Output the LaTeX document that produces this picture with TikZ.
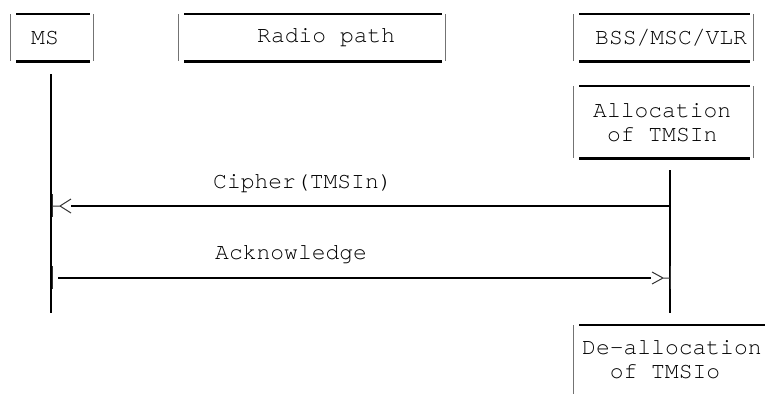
\documentclass[tikz,border=0pt]{standalone}
\usepackage{fontspec}
\usepackage{tikz}
\usetikzlibrary{positioning}
\newfontfamily\diagfont{texgyrecursor-regular.otf}
\newcommand{\ts}{\hspace*{0.6em}}
\tikzset{
  hdrbox/.style={inner xsep=0pt, inner ysep=0pt, align=left, anchor=north west, font=\fontsize{23}{24}\diagfont},
  lbl/.style={inner sep=0pt, anchor=base west, font=\fontsize{23}{24}\diagfont},
  topline/.style={line width=2.2pt, black},
  sideline/.style={line width=0.8pt, black!55},
  life/.style={line width=1.3pt, black},
  msg/.style={line width=2.2pt, black},
  thinl/.style={line width=1pt, black!80}
}

\begin{document}
\begin{tikzpicture}[x=1pt,y=-1pt]
\useasboundingbox (0,0) rectangle (765,394);
\node[hdrbox, text width=83pt, minimum height=47pt] (ms) at (10,14) {\hspace*{21pt}MS};
\node[hdrbox, text width=267pt, minimum height=47pt] (radio) at (178,14) {\hspace*{79pt}Radio\ts path};
\node[hdrbox, text width=180pt, minimum height=47pt] (bss) at (573,14) {\hspace*{22pt}BSS/MSC/VLR};
\node[hdrbox, text width=180pt, minimum height=72pt] (alloc) at (573,86) {\hspace*{20pt}Allocation\\\hspace*{20pt}\ts of\ts TMSIn};
\node[hdrbox, text width=192pt, minimum height=69pt] (dealloc) at (573,325) {\hspace*{9pt}De-allocation\\\hspace*{9pt}\ts\ts of\ts TMSIo};
\foreach \b in {ms,radio,bss,alloc} {
  \draw[sideline] (\b.north west) -- (\b.south west) (\b.north east) -- (\b.south east);
  \draw[topline] ([xshift=6pt]\b.north west) -- ([xshift=-3pt]\b.north east)
    ([xshift=6pt]\b.south west) -- ([xshift=-3pt]\b.south east);
}
\draw[sideline] (dealloc.north west) -- (dealloc.south west);
\draw[topline] ([xshift=6pt]dealloc.north west) -- (dealloc.north east);
% lifelines
\coordinate (msTop) at (51,74);
\coordinate (msBot) at (51,313);
\coordinate (bssTop) at (670,170);
\coordinate (bssBot) at (670,313);
\draw[life] (msTop) -- (msBot);
\draw[life] (bssTop) -- (bssBot);
% messages
\coordinate (cipR) at (670,206);
\coordinate (cipL) at (52,206);
\draw[msg, shorten >=19pt] (cipR) -- (cipL);
\draw[thinl] (cipL) -- ++(8,0) ++(11,-7) -- ++(-11,7) -- ++(11,7);
\draw[thinl] (cipL) ++(0,-12) -- ++(0,23);
\node[lbl] (cipLbl) at (213,188) {Cipher(TMSIn)};
\coordinate (ackL) at (52,278);
\coordinate (ackR) at (670,278);
\draw[msg, shorten <=6pt, shorten >=19pt] (ackL) -- (ackR);
\draw[thinl] (ackR) -- ++(-7,0) ++(-11,-6) -- ++(11,6) -- ++(-11,6);
\draw[thinl] (ackL) ++(0,-12) -- ++(0,23);
\draw[thinl] (ackR) ++(0,-12) -- ++(0,23);
\node[lbl] (ackLbl) at (215,259) {Acknowledge};
\end{tikzpicture}
\end{document}
